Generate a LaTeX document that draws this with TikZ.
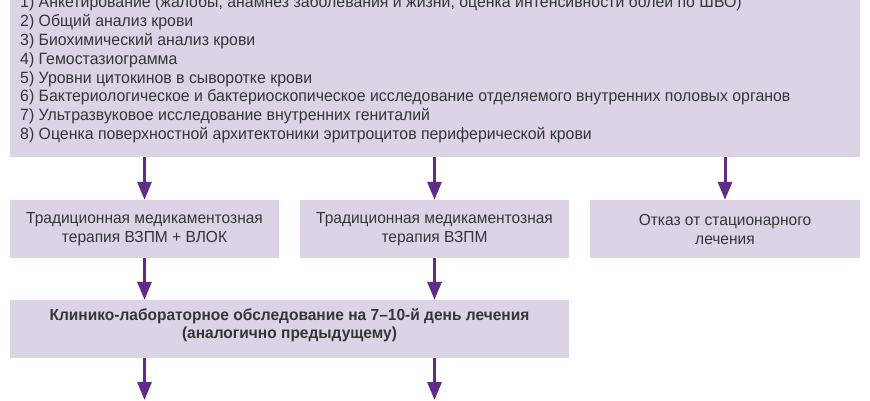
\documentclass[tikz,border=0pt]{standalone}
\usepackage{fontspec}
\setmainfont{Liberation Sans}[FakeStretch=0.97]
\usetikzlibrary{arrows.meta}
\definecolor{boxfill}{HTML}{DDD3E6}
\definecolor{txt}{HTML}{353535}
\definecolor{arrc}{HTML}{5F2D86}
\begin{document}
\begin{tikzpicture}[x=1pt,y=-1pt,
  box/.style={fill=boxfill, draw=none, inner sep=0pt, text=txt, font=\fontsize{16}{19}\selectfont},
  arr/.style={draw=arrc, line width=3pt, -{Triangle[length=18pt,width=14pt]}}]
\clip (0,0) rectangle (870,400);
\node[box, anchor=north west, minimum width=850pt, minimum height=177pt] (top) at (10,-20) {};
\node[anchor=base west, inner sep=0pt, text=txt, align=left,
      font=\fontsize{16.35}{18.8}\selectfont] (toptext) at (20,139.5)
  {1) Анкетирование (жалобы, анамнез заболевания и жизни, оценка интенсивности болей по ШВО)\\
   2) Общий анализ крови\\
   3) Биохимический анализ крови\\
   4) Гемостазиограмма\\
   5) Уровни цитокинов в сыворотке крови\\
   6) Бактериологическое и бактериоскопическое исследование отделяемого внутренних половых органов\\
   7) Ультразвуковое исследование внутренних гениталий\\
   8) Оценка поверхностной архитектоники эритроцитов периферической крови};
\node[box, minimum width=269pt, minimum height=58pt, align=center] (b1) at (144.5,229)
  {Традиционная медикаментозная\\терапия ВЗПМ + ВЛОК};
\node[box, minimum width=269pt, minimum height=58pt, align=center] (b2) at (434.5,229)
  {Традиционная медикаментозная\\терапия ВЗПМ};
\node[box, minimum width=270pt, minimum height=58pt, align=center] (b3) at (725,229)
  {Отказ от стационарного\\лечения};
\node[box, minimum width=559pt, minimum height=58pt] (c) at (289.5,329) {};
\node[align=center, inner sep=0pt, text=txt, font=\fontsize{16}{18.5}\bfseries\selectfont] (ctext) at (289.5,325)
  {Клинико-лабораторное обследование на 7–10-й день лечения\\(аналогично предыдущему)};
\coordinate (e1) at (144.5,400);
\coordinate (e2) at (434.5,400);
\draw[arr] (top.south -| b1) -- (b1.north);
\draw[arr] (top.south -| b2) -- (b2.north);
\draw[arr] (top.south -| b3) -- (b3.north);
\draw[arr] (b1.south) -- (b1.south |- c.north);
\draw[arr] (b2.south) -- (b2.south |- c.north);
\draw[arr] (c.south -| e1) -- (e1);
\draw[arr] (c.south -| e2) -- (e2);
\end{tikzpicture}
\end{document}
